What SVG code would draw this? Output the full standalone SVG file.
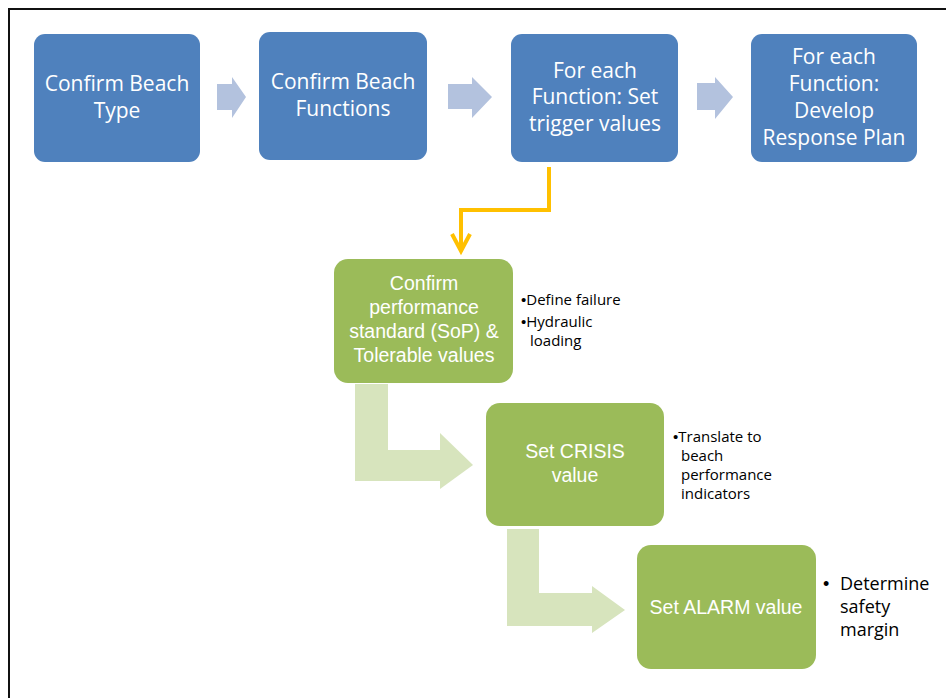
<svg xmlns="http://www.w3.org/2000/svg" width="946" height="698" viewBox="0 0 946 698">
<style>
.blue{fill:#4F81BD}
.green{fill:#9BBB59}
.bt{font-family:"Open Sans","Liberation Sans",sans-serif;font-size:21px;fill:#fff;text-anchor:middle}
.gt{font-family:"Liberation Sans","Open Sans",sans-serif;font-size:19.5px;fill:#fff;text-anchor:middle}
.note{font-family:"Open Sans","Liberation Sans",sans-serif;font-size:15px;fill:#000}
.note2{font-family:"Open Sans","Liberation Sans",sans-serif;font-size:18px;fill:#000}
.dot{font-family:"Liberation Sans",sans-serif}
.barrow{fill:#B3C2DE}
.garrow{fill:#D7E4BD}
</style>
<rect x="0" y="0" width="946" height="698" fill="#fff"/>
<path d="M9,698 V9 H946" fill="none" stroke="#111" stroke-width="2"/>
<g id="connectors">
<polygon class="barrow" points="217,84 232,84 232,77 246,97 232,118 232,110 217,110"/>
<polygon class="barrow" points="448,84 472,84 472,77 492,97 472,118 472,109 448,109"/>
<polygon class="barrow" points="697,83 715,83 715,77 733,97 715,119 715,110 697,110"/>
<polyline points="549,167 549,210 461,210 461,250" fill="none" stroke="#FFC000" stroke-width="4"/>
<polyline points="452,234 461,251 470,234" fill="none" stroke="#FFC000" stroke-width="4"/>
<polygon class="garrow" points="355,384 388,384 388,450 440,450 440,433 473,465 440,489 440,481 355,481"/>
<polygon class="garrow" points="507,529 539,529 539,593 592,593 592,586 625,610 592,633 592,626 507,626"/>
</g>
<g id="n1"><rect class="blue" x="34" y="34" width="166" height="128" rx="11"/>
<text class="bt" x="117" y="91">Confirm Beach</text><text class="bt" x="117" y="118">Type</text></g>
<g id="n2"><rect class="blue" x="259" y="32" width="168" height="128" rx="11"/>
<text class="bt" x="343" y="89">Confirm Beach</text><text class="bt" x="343" y="116">Functions</text></g>
<g id="n3"><rect class="blue" x="511" y="34" width="167" height="128" rx="11"/>
<text class="bt" x="595" y="78">For each</text><text class="bt" x="595" y="104">Function: Set</text><text class="bt" x="595" y="131">trigger values</text></g>
<g id="n4"><rect class="blue" x="751" y="34" width="166" height="128" rx="11"/>
<text class="bt" x="834" y="64">For each</text><text class="bt" x="834" y="91">Function:</text><text class="bt" x="834" y="118">Develop</text><text class="bt" x="834" y="145">Response Plan</text></g>
<g id="n5"><rect class="green" x="334" y="259" width="179" height="124" rx="14"/>
<text class="gt" x="424" y="290">Confirm</text><text class="gt" x="424" y="314">performance</text><text class="gt" x="424" y="338">standard (SoP) &amp;</text><text class="gt" x="424" y="362">Tolerable values</text>
<text class="note" x="521" y="305"><tspan class="dot">•</tspan>Define failure</text><text class="note" x="521" y="327"><tspan class="dot">•</tspan>Hydraulic</text><text class="note" x="530" y="346">loading</text></g>
<g id="n6"><rect class="green" x="486" y="403" width="178" height="123" rx="14"/>
<text class="gt" x="575" y="458">Set CRISIS</text><text class="gt" x="575" y="482">value</text>
<text class="note" x="673" y="442"><tspan class="dot">•</tspan>Translate to</text><text class="note" x="681" y="461">beach</text><text class="note" x="681" y="480">performance</text><text class="note" x="681" y="499">indicators</text></g>
<g id="n7"><rect class="green" x="637" y="545" width="179" height="124" rx="14"/>
<text class="gt" x="726" y="614">Set ALARM value</text>
<text class="note2" x="823" y="590"><tspan class="dot">•</tspan></text><text class="note2" x="840" y="590">Determine</text><text class="note2" x="840" y="613">safety</text><text class="note2" x="840" y="636">margin</text></g>
</svg>
